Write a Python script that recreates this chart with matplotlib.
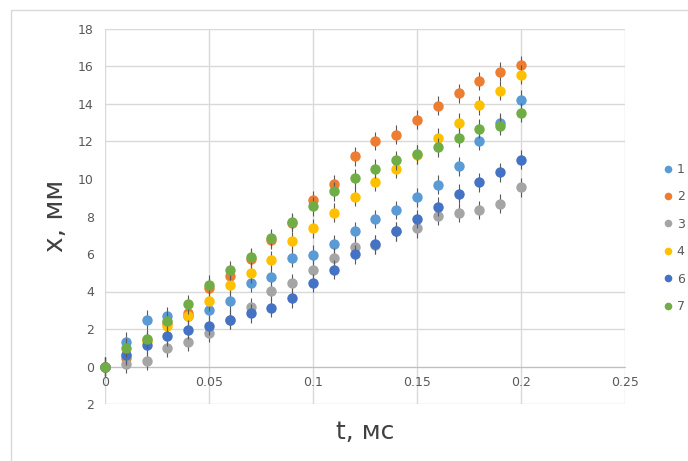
import matplotlib
matplotlib.use("Agg")
import matplotlib.pyplot as plt
from matplotlib.lines import Line2D
from matplotlib.patches import Rectangle
from matplotlib.ticker import FuncFormatter

# time, ms
t = [0, 0.01, 0.02, 0.03, 0.04, 0.05, 0.06, 0.07, 0.08, 0.09, 0.1,
     0.11, 0.12, 0.13, 0.14, 0.15, 0.16, 0.17, 0.18, 0.19, 0.2]

# displacement, mm
s1 = [0, 1.33, 2.5, 2.68, 2.7, 2.99, 3.47, 4.46, 4.8, 5.81, 5.97,
      6.51, 7.2, 7.86, 8.34, 9.03, 9.69, 10.68, 12.03, 13.0, 14.22]
s2 = [0, 0.48, 1.4, 2.3, 2.83, 4.2, 4.82, 5.75, 6.75, 7.65, 8.87,
      9.71, 11.2, 12.03, 12.37, 13.17, 13.9, 14.56, 15.22, 15.73, 16.07]
s3 = [0, 0.16, 0.32, 1.0, 1.33, 1.8, 2.5, 3.18, 4.02, 4.46, 5.16,
      5.81, 6.36, 6.5, 7.2, 7.36, 8.02, 8.2, 8.34, 8.69, 9.55]
s4 = [0, 0.6, 1.35, 2.15, 2.68, 3.48, 4.34, 4.98, 5.67, 6.68, 7.36,
      8.2, 9.05, 9.85, 10.54, 11.3, 12.2, 13.01, 13.92, 14.7, 15.57]
s6 = [0, 0.64, 1.14, 1.62, 1.96, 2.17, 2.49, 2.83, 3.13, 3.64, 4.46,
      5.16, 5.99, 6.52, 7.2, 7.86, 8.53, 9.21, 9.83, 10.36, 11.02]
s7 = [0, 1.0, 1.48, 2.45, 3.31, 4.36, 5.14, 5.83, 6.84, 7.7, 8.55,
      9.35, 10.03, 10.54, 11.0, 11.32, 11.68, 12.2, 12.68, 12.85, 13.53]

series = [s1, s2, s3, s4, s6, s7]
names = ["1", "2", "3", "4", "6", "7"]
colors = ["#5B9BD5", "#ED7D31", "#A5A5A5", "#FFC000", "#4472C4", "#70AD47"]
err = 0.5

x_ticks = [0, 0.05, 0.1, 0.15, 0.2, 0.25]
y_ticks = [-2, 0, 2, 4, 6, 8, 10, 12, 14, 16, 18]

W, H = 688, 461
fig = plt.figure(figsize=(W / 100, H / 100), dpi=100)

# chart border
fig.patches.append(Rectangle((11 / W, -0.1), 1.0, 1 - 10 / H + 0.1,
                             transform=fig.transFigure, fill=False,
                             edgecolor="#D9D9D9", linewidth=1))

ax = fig.add_axes([105 / W, 1 - 404 / H, 520 / W, 375 / H])

for i, (vals, name, c) in enumerate(zip(series, names, colors)):
    ax.errorbar(t, vals, yerr=err, fmt="o", color=c, markersize=7.5,
                markeredgewidth=0, ecolor="#595959", elinewidth=0.8,
                capsize=3.5, capthick=1, zorder=3 + i, clip_on=False)

ax.set_xlim(0, 0.25)
ax.set_ylim(-2, 18)
ax.set_xticks(x_ticks)
ax.set_yticks(y_ticks)
ax.xaxis.set_major_formatter(FuncFormatter(lambda v, p: f"{v:g}"))
ax.yaxis.set_major_formatter(FuncFormatter(lambda v, p: f"{abs(v):g}"))

ax.grid(True, color="#D9D9D9", linewidth=1)
ax.set_axisbelow(True)
# gridlines at 6, 8, 10 are not visible in the original
for v, gl in zip(y_ticks, ax.yaxis.get_gridlines()):
    if v in (6, 8, 10):
        gl.set_visible(False)

for s in ["top", "right", "left"]:
    ax.spines[s].set_visible(False)
ax.spines["bottom"].set_position(("data", 0))
ax.spines["bottom"].set_color("#BFBFBF")
ax.tick_params(length=0, labelsize=9, labelcolor="#595959")
ax.tick_params(axis="x", pad=7)
ax.tick_params(axis="y", pad=8)

fig.text(365 / W, 1 - 432 / H, "t, мс", ha="center", va="center",
         fontsize=18, color="#404040")
fig.text(56 / W, 1 - 216 / H, "x, мм", ha="center", va="center",
         rotation=90, fontsize=19, color="#404040")

handles = [Line2D([], [], linestyle="none", marker="o", color=c,
                  markersize=5.5, markeredgewidth=0) for c in colors]
fig.legend(handles, names, loc="center left",
           bbox_to_anchor=(663 / W, 1 - 238 / H), frameon=False,
           fontsize=9, labelcolor="#595959", handlelength=0.8,
           handletextpad=0.3, labelspacing=1.15, borderpad=0,
           borderaxespad=0)

fig.savefig("out.png", dpi=100)
